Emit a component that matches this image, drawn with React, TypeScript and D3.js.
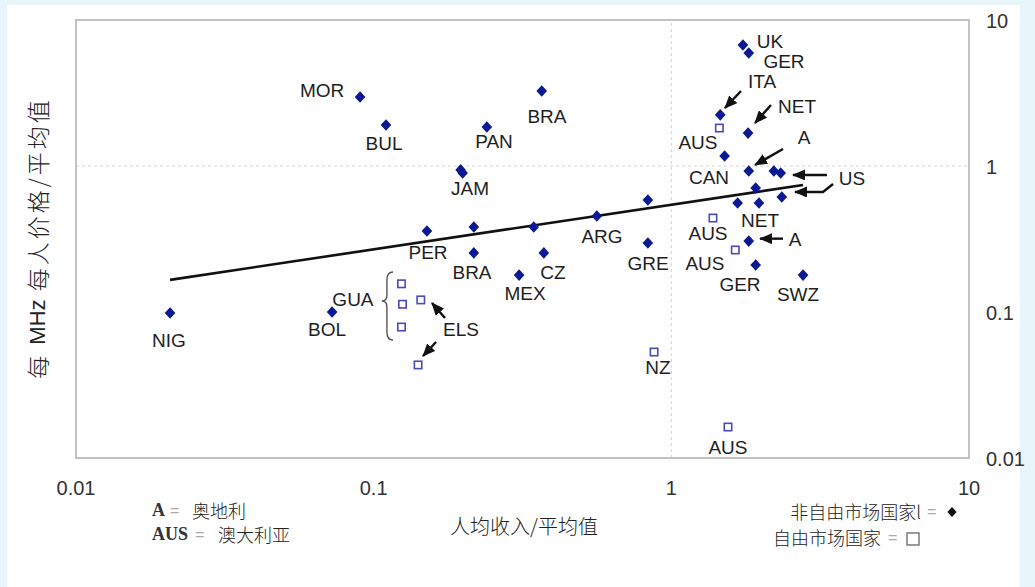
import React from "react";
import * as d3 from "d3";

const W = 1035;
const H = 587;

// Non-free market countries (filled diamonds): income per head / mean, price per MHz per head / mean
const nonFreeMarket = [
  { name: "MOR", income: 0.09, price: 2.97 },
  { name: "BUL", income: 0.11, price: 1.91 },
  { name: "BRA", income: 0.367, price: 3.26 },
  { name: "PAN", income: 0.24, price: 1.85 },
  { name: "JAM", income: 0.196, price: 0.94 },
  { name: "JAM", income: 0.199, price: 0.896 },
  { name: "NIG", income: 0.0207, price: 0.0984 },
  { name: "BOL", income: 0.0725, price: 0.1 },
  { name: "PER", income: 0.151, price: 0.359 },
  { name: "", income: 0.217, price: 0.382 },
  { name: "BRA", income: 0.217, price: 0.254 },
  { name: "", income: 0.345, price: 0.382 },
  { name: "CZ", income: 0.373, price: 0.254 },
  { name: "MEX", income: 0.308, price: 0.179 },
  { name: "ARG", income: 0.562, price: 0.455 },
  { name: "", income: 0.834, price: 0.585 },
  { name: "GRE", income: 0.834, price: 0.297 },
  { name: "UK", income: 1.74, price: 6.74 },
  { name: "GER", income: 1.82, price: 5.94 },
  { name: "ITA", income: 1.46, price: 2.24 },
  { name: "NET", income: 1.81, price: 1.68 },
  { name: "CAN", income: 1.51, price: 1.17 },
  { name: "A", income: 1.82, price: 0.925 },
  { name: "US", income: 2.21, price: 0.925 },
  { name: "US", income: 2.33, price: 0.896 },
  { name: "", income: 1.92, price: 0.707 },
  { name: "NET", income: 1.67, price: 0.558 },
  { name: "NET", income: 1.97, price: 0.558 },
  { name: "US", income: 2.35, price: 0.614 },
  { name: "A", income: 1.82, price: 0.306 },
  { name: "GER", income: 1.92, price: 0.21 },
  { name: "SWZ", income: 2.77, price: 0.179 },
];

// Free market countries (open squares)
const freeMarket = [
  { name: "AUS", income: 1.45, price: 1.82 },
  { name: "AUS", income: 1.38, price: 0.44 },
  { name: "AUS", income: 1.64, price: 0.266 },
  { name: "NZ", income: 0.875, price: 0.0532 },
  { name: "AUS", income: 1.55, price: 0.0163 },
  { name: "GUA", income: 0.124, price: 0.156 },
  { name: "GUA", income: 0.125, price: 0.113 },
  { name: "GUA", income: 0.124, price: 0.0789 },
  { name: "ELS", income: 0.144, price: 0.121 },
  { name: "ELS", income: 0.141, price: 0.0434 },
];

// Fitted trend line endpoints
const trendIncome = [0.0207, 2.77];
const trendPrice = [0.166, 0.741];

const xTicks = [0.01, 0.1, 1, 10];
const yTicks = [0.01, 0.1, 1, 10];
const xTickLabels = ["0.01", "0.1", "1", "10"];
const yTickLabels = ["0.01", "0.1", "1", "10"];

// Country label anchors (data units)
const pointLabels = [
  { text: "MOR", income: 0.0671, price: 3.31 },
  { text: "BUL", income: 0.1083, price: 1.437 },
  { text: "BRA", income: 0.382, price: 2.2 },
  { text: "PAN", income: 0.2536, price: 1.483 },
  { text: "JAM", income: 0.2107, price: 0.696 },
  { text: "NIG", income: 0.02053, price: 0.0643 },
  { text: "BOL", income: 0.0697, price: 0.0753 },
  { text: "GUA", income: 0.0852, price: 0.1227 },
  { text: "PER", income: 0.1523, price: 0.2576 },
  { text: "BRA", income: 0.214, price: 0.185 },
  { text: "CZ", income: 0.4004, price: 0.185 },
  { text: "MEX", income: 0.3224, price: 0.1349 },
  { text: "ARG", income: 0.585, price: 0.3315 },
  { text: "GRE", income: 0.835, price: 0.2132 },
  { text: "AUS", income: 1.229, price: 1.46 },
  { text: "CAN", income: 1.338, price: 0.828 },
  { text: "UK", income: 2.145, price: 7.18 },
  { text: "GER", income: 2.391, price: 5.16 },
  { text: "ITA", income: 2.017, price: 3.82 },
  { text: "NET", income: 2.644, price: 2.576 },
  { text: "A", income: 2.791, price: 1.579 },
  { text: "US", income: 4.045, price: 0.815 },
  { text: "NET", income: 1.986, price: 0.4267 },
  { text: "AUS", income: 1.328, price: 0.3476 },
  { text: "A", income: 2.603, price: 0.3162 },
  { text: "AUS", income: 1.297, price: 0.2132 },
  { text: "GER", income: 1.701, price: 0.1555 },
  { text: "SWZ", income: 2.664, price: 0.1328 },
  { text: "ELS", income: 0.1965, price: 0.0753 },
  { text: "NZ", income: 0.902, price: 0.042 },
  { text: "AUS", income: 1.55, price: 0.01189 },
];

// Pointer arrows (tail ... head), data units
const arrows: [number, number][][] = [
  [[1.714, 3.264], [1.514, 2.496]],
  [[2.162, 2.617], [1.91, 1.97]],
  [[2.372, 1.307], [1.91, 1.016]],
  [[3.334, 0.868], [2.563, 0.868]],
  [[3.493, 0.753], [3.232, 0.6637], [2.603, 0.6637]],
  [[2.372, 0.318], [1.986, 0.318]],
  [[0.1736, 0.091], [0.157, 0.1152]],
  [[0.162, 0.0623], [0.1465, 0.05]],
];

// GUA brace: income position, top, tip, bottom prices
const braceIncome = [0.1135, 0.109];
const bracePrice = [0.188, 0.119, 0.0643];

const xTitle = "人均收入/平均值";
const yTitleParts = ["每 ", "MHz", " 每人价格/平均值"];
const legendLeft = [
  { key: "A", value: "奥地利" },
  { key: "AUS", value: "澳大利亚" },
];
const legendRight = ["非自由市场国家l", "自由市场国家"];

const LATIN = "'Liberation Sans', Arial, Helvetica, sans-serif";
const CJK = "'Noto Sans CJK SC', sans-serif";

export default function App() {
  const x = d3.scaleLog().domain([0.01, 10]).range([76, 969]);
  const y = d3.scaleLog().domain([0.01, 10]).range([458, 20]);
  const [x0, x1] = x.range();
  const [y0, y1] = y.range();

  const diamond = (cx: number, cy: number, r = 5.8) =>
    `M${cx},${cy - r}L${cx + r * 0.92},${cy}L${cx},${cy + r}L${cx - r * 0.92},${cy}Z`;

  const line = d3
    .line<number>()
    .x((d) => x(trendIncome[d]))
    .y((d) => y(trendPrice[d]));

  const arrowLine = d3
    .line<[number, number]>()
    .x((d) => x(d[0]))
    .y((d) => y(d[1]));

  const bx = x(braceIncome[0]);
  const btip = x(braceIncome[1]) - 3;
  const bm = (bx + btip) / 2 + 1;
  const bt = y(bracePrice[0]);
  const bc = y(bracePrice[1]);
  const bb = y(bracePrice[2]);
  const bracePath = `M${bx + 3},${bt} Q${bm},${bt} ${bm},${bt + 8} L${bm},${bc - 6} Q${bm},${bc} ${btip},${bc} Q${bm},${bc} ${bm},${bc + 6} L${bm},${bb - 8} Q${bm},${bb} ${bx + 3},${bb}`;

  return (
    <div
      style={{
        position: "fixed",
        left: 0,
        top: 0,
        width: W,
        height: H,
        background: "#e8f6fc",
      }}
    >
      <svg width={W} height={H} style={{ display: "block" }}>
        <defs>
          <marker
            id="ah"
            viewBox="0 0 13 11"
            refX="12"
            refY="5.5"
            markerWidth="13"
            markerHeight="11"
            markerUnits="userSpaceOnUse"
            orient="auto"
          >
            <path d="M0,0 L13,5.5 L0,11 Z" fill="#111" />
          </marker>
        </defs>
        <rect x={7} y={5} width={1013} height={H - 5} fill="#ffffff" />

        {/* grid lines at 1 */}
        <line x1={x0} x2={x1} y1={y(1)} y2={y(1)} stroke="#d4d4d4" strokeDasharray="3,3" />
        <line x1={x(1)} x2={x(1)} y1={y0} y2={y1} stroke="#d4d4d4" strokeDasharray="3,3" />

        {/* frame */}
        <rect
          x={x0}
          y={y1}
          width={x1 - x0}
          height={y0 - y1}
          fill="none"
          stroke="#c2c2c2"
          strokeWidth={2}
        />

        {/* x tick labels */}
        {xTicks.map((t, i) => (
          <text
            key={"xt" + i}
            x={x(t)}
            y={488}
            textAnchor="middle"
            dominantBaseline="central"
            fontFamily={LATIN}
            fontSize={20}
            fill="#333"
          >
            {xTickLabels[i]}
          </text>
        ))}
        {/* y tick labels (right) */}
        {yTicks.map((t, i) => (
          <text
            key={"yt" + i}
            x={986}
            y={y(t) + 1}
            textAnchor="start"
            dominantBaseline="central"
            fontFamily={LATIN}
            fontSize={20}
            fill="#333"
          >
            {yTickLabels[i]}
          </text>
        ))}

        {/* trend line */}
        <path d={line([0, 1]) || ""} fill="none" stroke="#111" strokeWidth={2.6} />

        {/* arrows */}
        {arrows.map((a, i) => (
          <path
            key={"ar" + i}
            d={arrowLine(a) || ""}
            fill="none"
            stroke="#111"
            strokeWidth={2.4}
            markerEnd="url(#ah)"
          />
        ))}

        {/* brace */}
        <path d={bracePath} fill="none" stroke="#555" strokeWidth={1.4} />

        {/* free market squares */}
        {freeMarket.map((d, i) => (
          <rect
            key={"f" + i}
            x={x(d.income) - 3.7}
            y={y(d.price) - 3.7}
            width={7.4}
            height={7.4}
            fill="#fff"
            stroke="#4a4ab8"
            strokeWidth={1.6}
          />
        ))}

        {/* non-free market diamonds */}
        {nonFreeMarket.map((d, i) => (
          <path key={"n" + i} d={diamond(x(d.income), y(d.price))} fill="#0b1a94" />
        ))}

        {/* labels */}
        {pointLabels.map((l, i) => (
          <text
            key={"l" + i}
            x={x(l.income)}
            y={y(l.price)}
            textAnchor="middle"
            dominantBaseline="central"
            fontFamily={LATIN}
            fontSize={19}
            fill="#1e1e1e"
          >
            {l.text}
          </text>
        ))}

        {/* axis titles */}
        <text
          x={524}
          y={525}
          textAnchor="middle"
          dominantBaseline="central"
          fontFamily={CJK}
          fontWeight={300}
          fontSize={20}
          fill="#222"
        >
          {xTitle}
        </text>
        <text
          transform="translate(37,238) rotate(-90)"
          textAnchor="middle"
          dominantBaseline="central"
          fontFamily={CJK}
          fontWeight={300}
          fontSize={23}
          fill="#222"
        >
          <tspan letterSpacing={3}>{yTitleParts[0]}</tspan>
          <tspan letterSpacing={0} fontFamily={LATIN} fontWeight={400} fontSize={22}>
            {yTitleParts[1]}
          </tspan>
          <tspan letterSpacing={3}>{yTitleParts[2]}</tspan>
        </text>

        {/* left legend */}
        {legendLeft.map((g, i) => {
          const ly = 510 + i * 24;
          const keyW = g.key.length === 1 ? 15 : 40;
          return (
            <g key={"ll" + i}>
              <text
                x={152}
                y={ly}
                dominantBaseline="central"
                fontFamily="'Liberation Serif', 'Times New Roman', serif"
                fontWeight={600}
                fontSize={18}
                fill="#333"
              >
                {g.key}
              </text>
              <text
                x={152 + keyW + 3}
                y={ly}
                dominantBaseline="central"
                fontFamily={LATIN}
                fontSize={16}
                fill="#aaa"
              >
                =
              </text>
              <text
                x={152 + keyW + (i === 0 ? 25 : 26)}
                y={ly}
                dominantBaseline="central"
                fontFamily={CJK}
                fontWeight={300}
                fontSize={18}
                fill="#222"
              >
                {g.value}
              </text>
            </g>
          );
        })}

        {/* right legend */}
        <text
          x={921}
          y={511}
          textAnchor="end"
          dominantBaseline="central"
          fontFamily={CJK}
          fontWeight={300}
          fontSize={18}
          fill="#222"
        >
          {legendRight[0]}
        </text>
        <text x={927} y={511} dominantBaseline="central" fontFamily={LATIN} fontSize={16} fill="#aaa">
          =
        </text>
        <path d={diamond(952, 512, 5)} fill="#111" />
        <text
          x={881}
          y={537}
          textAnchor="end"
          dominantBaseline="central"
          fontFamily={CJK}
          fontWeight={300}
          fontSize={18}
          fill="#222"
        >
          {legendRight[1]}
        </text>
        <text x={888} y={537} dominantBaseline="central" fontFamily={LATIN} fontSize={16} fill="#aaa">
          =
        </text>
        <rect x={907} y={533} width={12} height={12} fill="#fff" stroke="#666" strokeWidth={1.3} />
      </svg>
    </div>
  );
}
